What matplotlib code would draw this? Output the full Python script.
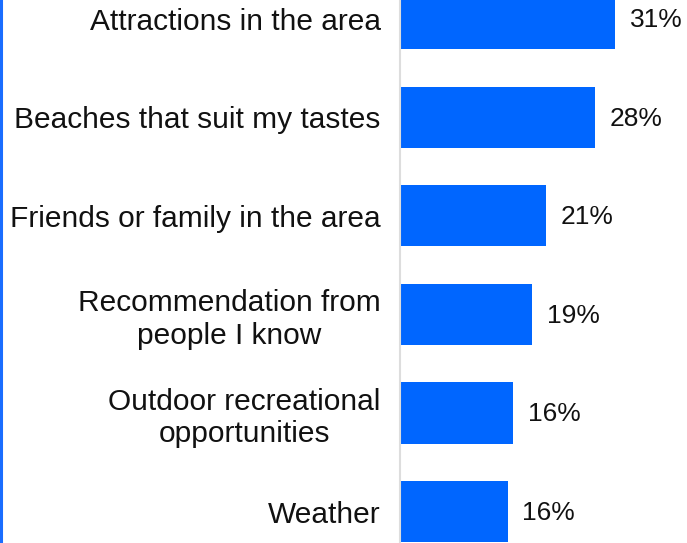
import matplotlib.pyplot as plt
from matplotlib.lines import Line2D

# Reasons for choosing a beach destination (share of respondents, %)
reasons = [
    "Attractions in the area",
    "Beaches that suit my tastes",
    "Friends or family in the area",
    "Recommendation from\npeople I know",
    "Outdoor recreational\nopportunities",
    "Weather",
]
shares = [31.0, 28.1, 21.0, 19.0, 16.3, 15.5]

BLUE = "#0066FF"

plt.rcParams["font.family"] = ["Liberation Sans", "DejaVu Sans"]

fig = plt.figure(figsize=(6.87, 5.43), dpi=100)
ax = fig.add_axes([400 / 687, 0, 287 / 687, 1])

ypos = list(range(len(reasons)))
ax.barh(ypos, shares, height=0.62, color=BLUE)

for y, v in zip(ypos, shares):
    ax.annotate(f"{v:.0f}%", (v, y), xytext=(10.5, -1), textcoords="offset points",
                ha="left", va="center", fontsize=19, color="#111111")

ax.set_xlim(0, 287 / 6.95)
ax.set_ylim(5.318, -0.188)
ax.set_yticks(ypos)
ax.set_yticklabels(reasons, fontsize=21.5, color="#111111",
                   linespacing=1.2, multialignment="center")
ax.tick_params(axis="y", length=0, pad=14)
ax.set_xticks([])

for side in ["top", "right", "bottom"]:
    ax.spines[side].set_visible(False)
ax.spines["left"].set_color("#dddddd")
ax.spines["left"].set_linewidth(1.5)

# accent rule along the left edge
fig.add_artist(Line2D([0.002, 0.002], [0, 1], transform=fig.transFigure,
                      color="#1a6dff", linewidth=2.2))

fig.savefig("out.png", dpi=100)
